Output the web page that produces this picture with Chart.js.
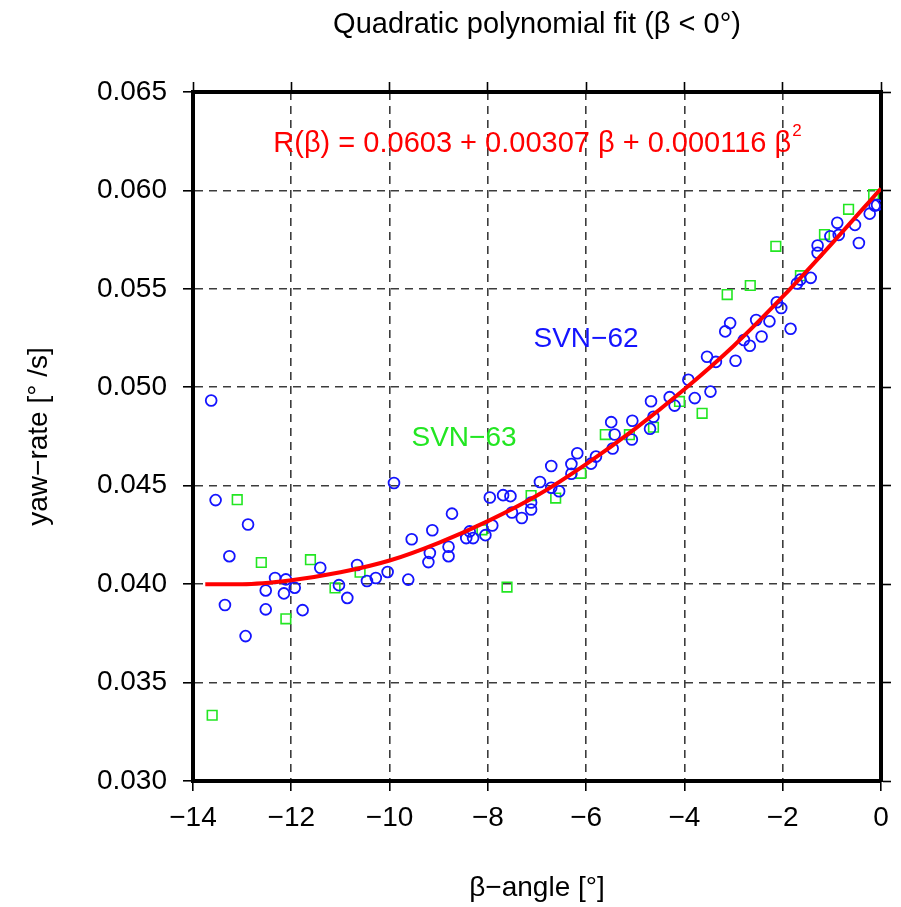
<!DOCTYPE html>
<html>
<head>
<meta charset="utf-8">
<script src="https://cdn.jsdelivr.net/npm/chart.js@4"></script>
<style>
  html, body { margin: 0; padding: 0; background: #fff; }
  canvas { display: block; }
</style>
</head>
<body>
<canvas id="fitChart" width="901" height="907"></canvas>
<script>
// values
const svn62Beta = [
  -13.63, -13.54, -12.88, -13.26, -12.33, -12.11, -12.52, -12.15, -11.93, -13.35,
  -12.52, -11.77, -12.93, -11.41, -11.03, -10.86, -10.66, -10.46, -10.28, -10.04,
  -9.91, -9.62, -9.55, -9.18, -9.21, -9.13, -8.80, -8.80, -8.73, -8.44,
  -8.37, -8.30, -8.05, -7.91, -7.96, -7.69, -7.54, -7.51, -7.31, -7.12,
  -7.12, -6.94, -6.71, -6.71, -6.55, -6.30, -6.30, -6.18, -5.90, -5.80,
  -5.49, -5.42, -5.46, -5.06, -5.07, -4.68, -4.63, -4.70, -4.30, -4.20,
  -3.92, -3.79, -3.47, -3.54, -3.36, -3.17, -3.07, -2.96, -2.79, -2.67,
  -2.54, -2.43, -2.27, -2.12, -2.03, -1.84, -1.71, -1.64, -1.43, -1.29,
  -1.29, -1.03, -0.89, -0.86, -0.53, -0.45, -0.23, -0.13, -0.08
];
const svn62Rate = [
  0.04933, 0.04427, 0.04303, 0.04142, 0.04031, 0.04024, 0.03968, 0.03953, 0.03982, 0.03894,
  0.03872, 0.03868, 0.03736, 0.04083, 0.03995, 0.03930, 0.04097, 0.04016, 0.04031, 0.04062,
  0.04514, 0.04023, 0.04228, 0.04158, 0.04112, 0.04274, 0.04190, 0.04142, 0.04358, 0.04234,
  0.04268, 0.04234, 0.04249, 0.04298, 0.04440, 0.04452, 0.04447, 0.04364, 0.04336, 0.04379,
  0.04415, 0.04519, 0.04600, 0.04490, 0.04472, 0.04610, 0.04561, 0.04665, 0.04612, 0.04648,
  0.04823, 0.04760, 0.04689, 0.04830, 0.04735, 0.04929, 0.04850, 0.04789, 0.04950, 0.04907,
  0.05038, 0.04945, 0.04978, 0.05155, 0.05129, 0.05284, 0.05326, 0.05135, 0.05240, 0.05211,
  0.05342, 0.05258, 0.05335, 0.05432, 0.05403, 0.05297, 0.05527, 0.05547, 0.05556, 0.05720,
  0.05683, 0.05767, 0.05836, 0.05774, 0.05825, 0.05733, 0.05882, 0.05923, 0.05926
];

const svn63Beta = [
  -13.10, -12.61, -11.61, -12.11, -11.11, -10.60, -13.61, -8.12, -7.61, -7.12,
  -6.62, -6.11, -5.61, -5.12, -4.63, -4.10, -3.64, -3.13, -2.66, -2.14,
  -1.64, -1.15, -0.66, -0.15
];
const svn63Rate = [
  0.04429, 0.04110, 0.04124, 0.03824, 0.03981, 0.04061, 0.03334, 0.04276, 0.03985, 0.04450,
  0.04437, 0.04563, 0.04760, 0.04759, 0.04797, 0.04928, 0.04868, 0.05471, 0.05517, 0.05716,
  0.05567, 0.05776, 0.05904, 0.05979
];

// red fit curve, read at whole degrees
const fitBeta = [-13.75, -13, -12, -11, -10, -9, -8, -7, -6, -5, -4, -3, -2, -1, 0];
const fitRate = [0.0400, 0.0400, 0.0402, 0.0406, 0.0412, 0.0421, 0.0432, 0.0445, 0.0461,
  0.0479, 0.0499, 0.0521, 0.0546, 0.0573, 0.0601];

const xTicks = [-14, -12, -10, -8, -6, -4, -2, 0];
const yTicks = [0.030, 0.035, 0.040, 0.045, 0.050, 0.055, 0.060, 0.065];

const titleText = 'Quadratic polynomial fit (\u03b2 < 0\u00b0)';
const xTitle = '\u03b2\u2212angle [\u00b0]';
const yTitle = 'yaw\u2212rate [\u00b0 /s]';
const fitText = 'R(\u03b2) = 0.0603 + 0.00307 \u03b2 + 0.000116 \u03b2';

const FONT = '"Liberation Sans", Arial, Helvetica, sans-serif';
const BLUE = '#1414ff';
const GREEN = '#22e622';
const RED = '#ff0000';

const zip = (xs, ys) => xs.map((x, i) => ({ x: x, y: ys[i] }));
const fmtBeta = v => (v < 0 ? '\u2212' + Math.abs(v) : String(v));

const textPlugin = {
  id: 'textLabels',
  afterDraw(chart) {
    const { ctx, chartArea: a } = chart;
    const cx = (a.left + a.right) / 2;
    ctx.save();
    ctx.fillStyle = '#000';
    ctx.font = '29px ' + FONT;
    ctx.textAlign = 'center';
    ctx.textBaseline = 'middle';
    ctx.fillText(titleText, cx, 25);
    ctx.font = '28px ' + FONT;
    ctx.fillText(xTitle, cx, 888);

    ctx.save();
    ctx.translate(39, (a.top + a.bottom) / 2);
    ctx.rotate(-Math.PI / 2);
    ctx.fillText(yTitle, 0, 0);
    ctx.restore();

    // fit equation with superscript 2
    ctx.fillStyle = RED;
    ctx.textAlign = 'left';
    ctx.textBaseline = 'alphabetic';
    ctx.font = '29px ' + FONT;
    const w1 = ctx.measureText(fitText).width;
    ctx.font = '17px ' + FONT;
    const w2 = ctx.measureText('2').width;
    const x0 = cx - (w1 + w2) / 2;
    ctx.font = '29px ' + FONT;
    ctx.fillText(fitText, x0, 152);
    ctx.font = '17px ' + FONT;
    ctx.fillText('2', x0 + w1 + 1, 136);

    ctx.font = '28px ' + FONT;
    ctx.textAlign = 'center';
    ctx.textBaseline = 'middle';
    ctx.fillStyle = BLUE;
    ctx.fillText('SVN\u221262', 586, 339);
    ctx.fillStyle = GREEN;
    ctx.fillText('SVN\u221263', 464, 438);
    ctx.restore();
  }
};

const tickMarks = {
  tickLength: 10,
  tickColor: '#000',
  tickWidth: 1.6
};

new Chart(document.getElementById('fitChart'), {
  type: 'scatter',
  data: {
    datasets: [
      {
        type: 'line',
        label: 'fit',
        data: zip(fitBeta, fitRate),
        borderColor: RED,
        borderWidth: 4,
        pointRadius: 0,
        cubicInterpolationMode: 'monotone',
        fill: false,
        order: 0
      },
      {
        label: 'SVN-62',
        data: zip(svn62Beta, svn62Rate),
        pointStyle: 'circle',
        pointRadius: 5.4,
        borderWidth: 1.8,
        borderColor: BLUE,
        backgroundColor: 'rgba(0,0,0,0)',
        order: 1
      },
      {
        label: 'SVN-63',
        data: zip(svn63Beta, svn63Rate),
        pointStyle: 'rect',
        pointRadius: 6.8,
        borderWidth: 1.6,
        borderColor: GREEN,
        backgroundColor: 'rgba(0,0,0,0)',
        order: 1
      }
    ]
  },
  options: {
    responsive: false,
    animation: false,
    devicePixelRatio: 1,
    layout: { padding: 0 },
    plugins: {
      legend: { display: false },
      tooltip: { enabled: false }
    },
    scales: {
      x: {
        type: 'linear',
        position: 'bottom',
        min: -14,
        max: 0,
        afterBuildTicks: s => { s.ticks = xTicks.map(v => ({ value: v })); },
        ticks: {
          color: '#000',
          padding: 10,
          maxRotation: 0,
          autoSkip: false,
          font: { family: FONT, size: 28 },
          callback: fmtBeta
        },
        grid: Object.assign({ color: '#3c3c3c', lineWidth: 1.6 }, tickMarks),
        border: { color: '#000', width: 4, dash: [8, 6] },
        afterFit: s => { s.height = 126; }
      },
      xTop: {
        type: 'linear',
        position: 'top',
        min: -14,
        max: 0,
        afterBuildTicks: s => { s.ticks = xTicks.map(v => ({ value: v })); },
        ticks: { display: false },
        grid: Object.assign({ drawOnChartArea: false }, tickMarks),
        border: { color: '#000', width: 4 },
        afterFit: s => { s.height = 92; }
      },
      y: {
        type: 'linear',
        position: 'left',
        min: 0.030,
        max: 0.065,
        afterBuildTicks: s => { s.ticks = yTicks.map(v => ({ value: v })); },
        ticks: {
          color: '#000',
          padding: 16,
          font: { family: FONT, size: 28 },
          callback: v => v.toFixed(3)
        },
        grid: Object.assign({ color: '#3c3c3c', lineWidth: 1.6 }, tickMarks),
        border: { color: '#000', width: 4, dash: [8, 6] },
        afterFit: s => { s.width = 193; }
      },
      yRight: {
        type: 'linear',
        position: 'right',
        min: 0.030,
        max: 0.065,
        afterBuildTicks: s => { s.ticks = yTicks.map(v => ({ value: v })); },
        ticks: { display: false },
        grid: Object.assign({ drawOnChartArea: false }, tickMarks),
        border: { color: '#000', width: 4 },
        afterFit: s => { s.width = 20; }
      }
    }
  },
  plugins: [textPlugin]
});
</script>
</body>
</html>
